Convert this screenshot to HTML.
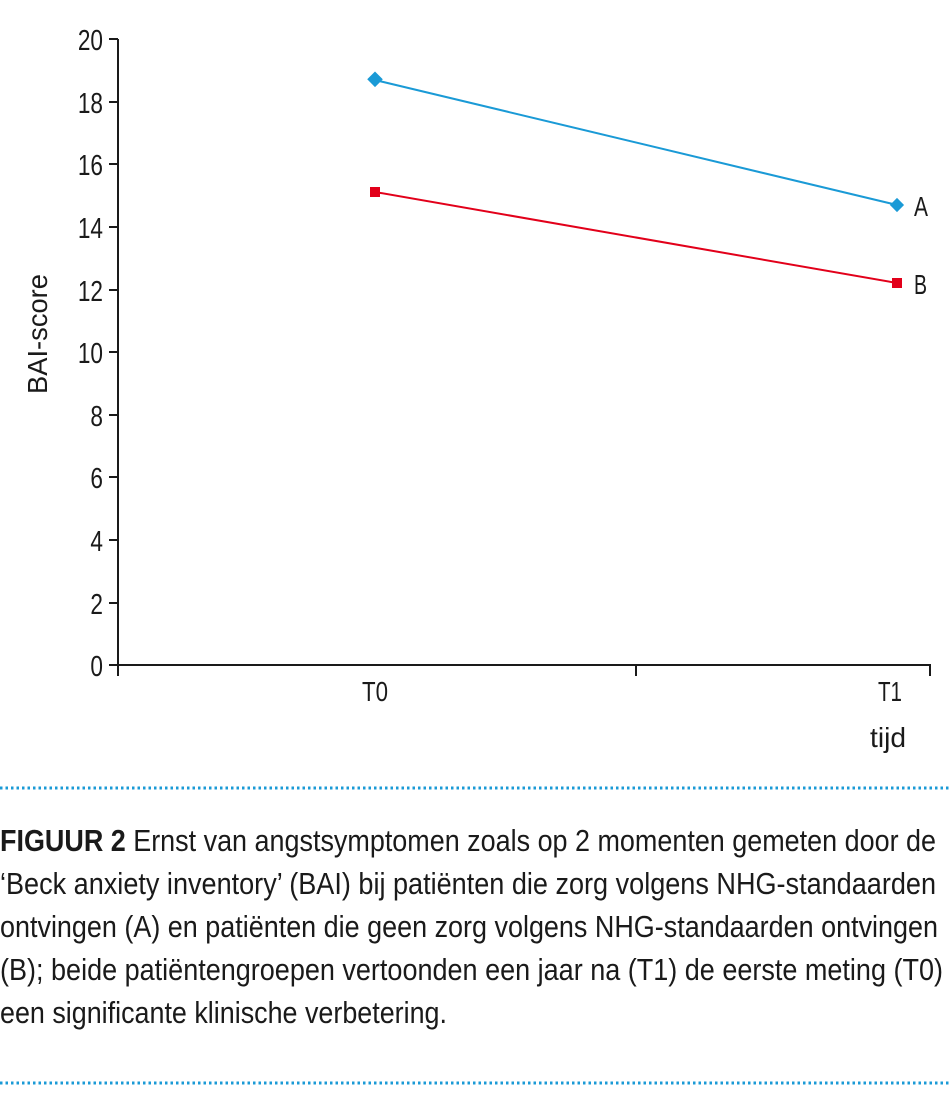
<!DOCTYPE html>
<html><head><meta charset="utf-8"><style>
html,body{margin:0;padding:0;background:#fff;}
svg{display:block;}
text{font-family:"Liberation Sans Narrow","Liberation Sans",sans-serif;fill:#1a1a1a;}
</style></head><body>
<svg width="951" height="1100" viewBox="0 0 951 1100" xmlns="http://www.w3.org/2000/svg">
<g stroke="#1a1a1a" stroke-width="2" fill="none">
<line x1="118" y1="39" x2="118" y2="666"/>
<line x1="117" y1="665" x2="931" y2="665"/>
<line x1="109" y1="39" x2="118" y2="39"/>
<line x1="109" y1="102" x2="118" y2="102"/>
<line x1="109" y1="164" x2="118" y2="164"/>
<line x1="109" y1="227" x2="118" y2="227"/>
<line x1="109" y1="290" x2="118" y2="290"/>
<line x1="109" y1="352" x2="118" y2="352"/>
<line x1="109" y1="415" x2="118" y2="415"/>
<line x1="109" y1="477" x2="118" y2="477"/>
<line x1="109" y1="540" x2="118" y2="540"/>
<line x1="109" y1="603" x2="118" y2="603"/>
<line x1="109" y1="665" x2="118" y2="665"/>
<line x1="118" y1="665" x2="118" y2="676"/>
<line x1="636" y1="665" x2="636" y2="676"/>
<line x1="930" y1="665" x2="930" y2="676"/>
</g>
<g font-size="29" text-anchor="end" transform="translate(103,0) scale(0.78,1) translate(-103,0)">
<text x="103" y="50">20</text><text x="103" y="113">18</text><text x="103" y="175">16</text>
<text x="103" y="238">14</text><text x="103" y="301">12</text><text x="103" y="363">10</text>
<text x="103" y="426">8</text><text x="103" y="488">6</text><text x="103" y="551">4</text>
<text x="103" y="614">2</text><text x="103" y="676">0</text>
</g>
<text font-size="28" transform="translate(47,334) rotate(-90)" text-anchor="middle" textLength="120" lengthAdjust="spacingAndGlyphs">BAI-score</text>
<text x="375" y="701" font-size="28" text-anchor="middle" textLength="26" lengthAdjust="spacingAndGlyphs">T0</text>
<text x="890" y="701" font-size="28" text-anchor="middle" textLength="24" lengthAdjust="spacingAndGlyphs">T1</text>
<text x="888" y="747" font-size="28" text-anchor="middle" textLength="36" lengthAdjust="spacingAndGlyphs">tijd</text>
<line x1="375" y1="80" x2="897" y2="205" stroke="#1a9ad6" stroke-width="2"/>
<line x1="375" y1="192" x2="897" y2="283" stroke="#e2001a" stroke-width="2"/>
<rect x="369" y="74" width="11" height="11" fill="#1a9ad6" transform="rotate(45 375 80)"/>
<rect x="892" y="200" width="10" height="10" fill="#1a9ad6" transform="rotate(45 897 205)"/>
<rect x="370" y="187" width="10" height="10" fill="#e2001a"/>
<rect x="892" y="278" width="10" height="10" fill="#e2001a"/>
<text x="914" y="216" font-size="28" textLength="14" lengthAdjust="spacingAndGlyphs">A</text>
<text x="914" y="294" font-size="28" textLength="13" lengthAdjust="spacingAndGlyphs">B</text>
<line x1="0" y1="788" x2="951" y2="788" stroke="#1a9ad6" stroke-width="3" stroke-dasharray="2.5 3"/>
<line x1="0" y1="1083" x2="951" y2="1083" stroke="#1a9ad6" stroke-width="3" stroke-dasharray="2.5 3"/>
<g font-size="31">
<text x="0" y="851" textLength="936" lengthAdjust="spacingAndGlyphs"><tspan font-weight="bold">FIGUUR 2</tspan>  Ernst van angstsymptomen zoals op 2 momenten gemeten door de</text>
<text x="0" y="894" textLength="936" lengthAdjust="spacingAndGlyphs">‘Beck anxiety inventory’ (BAI) bij patiënten die zorg volgens NHG-standaarden</text>
<text x="0" y="937" textLength="938" lengthAdjust="spacingAndGlyphs">ontvingen (A) en patiënten die geen zorg volgens NHG-standaarden ontvingen</text>
<text x="0" y="980" textLength="943" lengthAdjust="spacingAndGlyphs">(B); beide patiëntengroepen vertoonden een jaar na (T1) de eerste meting (T0)</text>
<text x="0" y="1023" textLength="447" lengthAdjust="spacingAndGlyphs">een significante klinische verbetering.</text>
</g>
</svg>
</body></html>
